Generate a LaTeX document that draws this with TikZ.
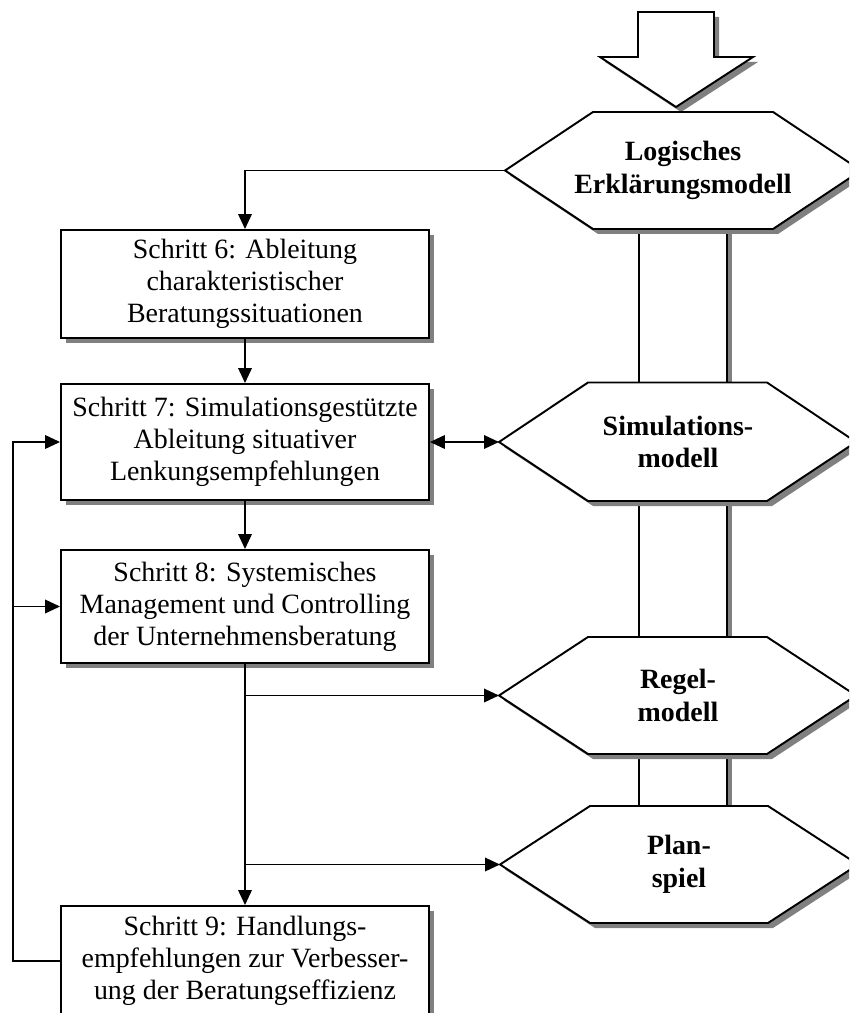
\documentclass[tikz,border=0pt]{standalone}
\usepackage{fontspec}
\setmainfont{Liberation Serif}
\usetikzlibrary{shadows,arrows.meta}
\definecolor{schattengrau}{RGB}{128,128,128}
\tikzset{
  schatten/.style={drop shadow={shadow xshift=0.1cm, shadow yshift=-0.1cm, fill=schattengrau, opacity=1}},
  rahmen/.style={draw, fill=white, line width=1.1pt, schatten},
  schritt/.style={rahmen, minimum width=7.36cm, align=center, inner sep=2pt,
    font=\fontsize{15.9}{18.2}\selectfont},
  modelltext/.style={align=center, inner sep=0pt, font=\fontsize{15.9}{18.6}\selectfont\bfseries},
  pfeil/.style={line width=1.1pt, -{Triangle[length=0.3cm, width=0.27cm]}},
  doppelpfeil/.style={line width=1.1pt, {Triangle[length=0.3cm, width=0.27cm]}-{Triangle[length=0.3cm, width=0.27cm]}},
}

\begin{document}
\begin{tikzpicture}[x=0.02cm, y=-0.02cm]
\useasboundingbox (0,0) rectangle (849,1013);
\clip (0,0) rectangle (849,1013);

% Eingangspfeil oben
\draw[rahmen] (638,12) -- (714,12) -- (714,57) -- (753,57)
  -- (676,107) -- (600,57) -- (638,57) -- cycle;

% Saeule hinter den Modellen
\draw[rahmen] (639,200) rectangle (727,830);

% Modelle (rechts)
\draw[rahmen] (505,170.5) coordinate (logikW) -- (593,112) -- (773,112) -- (861,170.5)
  -- (773,229) -- (593,229) -- cycle;
\node[modelltext] (logik) at (683,170.5) {Logisches\\Erklärungsmodell};

\draw[rahmen] (499,442) coordinate (simuW) -- (588,382.5) -- (767,382.5) -- (856,442)
  -- (767,501) -- (588,501) -- cycle;
\node[modelltext] (simu) at (678,442) {Simulations-\\modell};

\draw[rahmen] (499,695.5) coordinate (regelW) -- (588,637) -- (767,637) -- (856,695.5)
  -- (767,754) -- (588,754) -- cycle;
\node[modelltext] (regel) at (678,695.5) {Regel-\\modell};

\draw[rahmen] (500,864.5) coordinate (planW) -- (590,806) -- (768,806) -- (858,864.5)
  -- (768,923) -- (590,923) -- cycle;
\node[modelltext] (plan) at (679,864.5) {Plan-\\spiel};

% Schritte (links)
\node[schritt, minimum height=2.16cm] (s6) at (245,284) {Schritt 6: Ableitung\\charakteristischer\\Beratungssituationen};
\node[schritt, minimum height=2.32cm] (s7) at (245,442) {Schritt 7: Simulationsgestützte\\Ableitung situativer\\Lenkungsempfehlungen};
\node[schritt, minimum height=2.26cm] (s8) at (245,606.5) {Schritt 8: Systemisches\\Management und Controlling\\der Unternehmensberatung};
\node[schritt, minimum height=2.2cm] (s9) at (245,961) {Schritt 9: Handlungs-\\empfehlungen zur Verbesser-\\ung der Beratungseffizienz};

% Verbindungen
\draw[pfeil] (logikW) -| (s6.north);
\draw[pfeil] (s6) -- (s7);
\draw[doppelpfeil] (s7.east) -- (simuW);
\draw[pfeil] (s7) -- (s8);
\draw[pfeil] (s8) -- (s9);
\draw[pfeil] (s8.south |- regelW) -- (regelW);
\draw[pfeil] (s8.south |- planW) -- (planW);

% Rueckkopplung
\coordinate (rueck) at (13,961);
\draw[pfeil] (s9.west) -- (rueck) |- (s7.west);
\draw[pfeil] (rueck |- s8.west) -- (s8.west);

\end{tikzpicture}
\end{document}
